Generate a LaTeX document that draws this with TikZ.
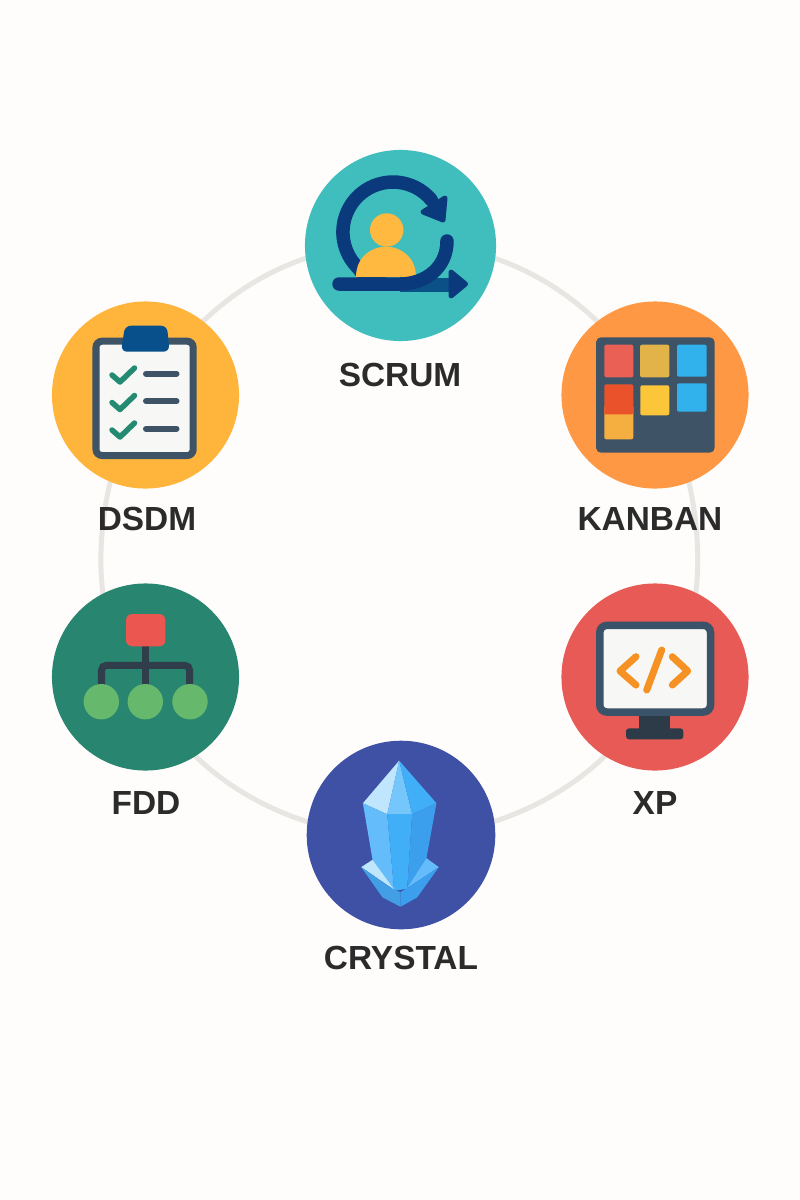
\documentclass[tikz,border=0pt]{standalone}
\usepackage{fontspec}
\setmainfont{Liberation Sans}
\usetikzlibrary{backgrounds}

\definecolor{paper}{HTML}{FEFDFB}
\definecolor{ringgrey}{HTML}{E8E6E3}
\definecolor{labelink}{HTML}{2B2B2B}
\definecolor{scrumteal}{HTML}{40BDBD}
\definecolor{scrumnavy}{HTML}{0A3A7C}
\definecolor{scrumblue}{HTML}{0A5285}
\definecolor{personamber}{HTML}{FFB840}
\definecolor{kanbanorange}{HTML}{FF9844}
\definecolor{boardslate}{HTML}{3F5367}
\definecolor{cardred}{HTML}{EA6055}
\definecolor{cardgold}{HTML}{E1B348}
\definecolor{cardblue}{HTML}{31B2EC}
\definecolor{cardrust}{HTML}{E9522A}
\definecolor{cardpeach}{HTML}{F5AE40}
\definecolor{cardyellow}{HTML}{FCC63A}
\definecolor{dsdmamber}{HTML}{FFB53C}
\definecolor{sheetwhite}{HTML}{F7F7F5}
\definecolor{clipblue}{HTML}{07508C}
\definecolor{tickgreen}{HTML}{248A72}
\definecolor{fddgreen}{HTML}{28856F}
\definecolor{treered}{HTML}{EC5650}
\definecolor{treedark}{HTML}{2F3E4A}
\definecolor{leafgreen}{HTML}{66B96C}
\definecolor{xpred}{HTML}{E75A55}
\definecolor{screenslate}{HTML}{3B5369}
\definecolor{standdark}{HTML}{2C3B47}
\definecolor{codeorange}{HTML}{F59223}
\definecolor{crystalindigo}{HTML}{3F51A5}
\definecolor{gemlight}{HTML}{BFE6FD}
\definecolor{gemsky}{HTML}{74C6FB}
\definecolor{gemsoft}{HTML}{64BDFA}
\definecolor{gemmid}{HTML}{41AEF8}
\definecolor{gemdeep}{HTML}{3C9FEE}
\definecolor{gemlow}{HTML}{429FE6}

\tikzset{
        hub/.style={circle, inner sep=0pt, minimum size=1.87cm},
        hublabel/.style={inner sep=0pt, text=labelink,
                         font=\fontsize{9.5}{12}\selectfont\bfseries},
        ringline/.style={draw=ringgrey, line width=.05cm},
        card/.style={rounded corners=.02cm},
        tick/.style={draw=tickgreen, line width=.055cm, line cap=round, line join=round},
        textline/.style={draw=boardslate, line width=.06cm, line cap=round},
        code/.style={draw=codeorange, line width=.07cm, line cap=round, line join=round},
        sweep/.style={draw=scrumnavy, line width=.135cm, line cap=round},
        head/.style={draw=scrumnavy, fill=scrumnavy, line width=.05cm, line join=round}
}

\begin{document}
\begin{tikzpicture}[x=.01cm, y=-.01cm]
        \useasboundingbox (0, 0) rectangle (800, 1200);

        \node [hub, fill=scrumteal, minimum size=1.91cm] (scrum) at (400.5, 245.5) {};
        \node [hub, fill=kanbanorange] (kanban) at (655, 395) {};
        \node [hub, fill=xpred] (xp) at (655, 677) {};
        \node [hub, fill=crystalindigo, minimum size=1.885cm] (crystal) at (401, 835) {};
        \node [hub, fill=fddgreen] (fdd) at (145.5, 677) {};
        \node [hub, fill=dsdmamber] (dsdm) at (145.5, 395) {};

        \node [hublabel] (scrumlabel) at (400, 375) {SCRUM};
        \node [hublabel] (kanbanlabel) at (650, 519) {KANBAN};
        \node [hublabel] (xplabel) at (655, 803) {XP};
        \node [hublabel] (crystallabel) at (401, 958) {CRYSTAL};
        \node [hublabel] (fddlabel) at (146, 803) {FDD};
        \node [hublabel] (dsdmlabel) at (147, 519) {DSDM};

        \begin{pgfonlayer}{background}
                \fill [paper] (0, 0) rectangle (800, 1200);
                \draw [ringline] (scrum.center) .. controls (490, 240) and (590, 285) .. (kanban.center);
                \draw [ringline] (kanban.center) .. controls (712, 490) and (712, 645) .. (xp.center);
                \draw [ringline] (xp.center) .. controls (625, 775) and (500, 840) .. (crystal.center);
                \draw [ringline] (crystal.center) .. controls (300, 840) and (175, 775) .. (fdd.center);
                \draw [ringline] (fdd.center) .. controls (86, 645) and (86, 490) .. (dsdm.center);
                \draw [ringline] (dsdm.center) .. controls (210, 285) and (310, 240) .. (scrum.center);
        \end{pgfonlayer}

        \draw [sweep] (431.3, 199.9) arc [start angle=40, end angle=225, radius=.5cm]
               .. controls (364, 276) and (372, 284) .. (385, 284);
        \fill [personamber] (386.7, 230) circle [radius=.167cm];
        \fill [personamber] (356, 277) .. controls (356, 258) and (370, 246.7) .. (386, 246.7)
               .. controls (402, 246.7) and (416, 258) .. (416, 277) -- cycle;
        \fill [scrumblue] (400, 278) rectangle (452, 291.5);
        \draw [head] (451, 272) -- (465.5, 284) -- (451, 296) -- cycle;
        \draw [sweep] (447, 241) .. controls (447, 268) and (425, 284) .. (400, 284) -- (339, 284);
        \draw [head] (445, 198) -- (423, 212) -- (443, 220) -- cycle;

        \fill [boardslate, rounded corners=.05cm] (596, 337.3) rectangle (714.7, 452.7);
        \fill [cardred, card] (604.3, 344.7) rectangle (633.3, 377.3);
        \fill [cardgold, card] (640, 344.7) rectangle (669.3, 377.3);
        \fill [cardblue, card] (677, 344.7) rectangle (706.7, 376.7);
        \fill [cardpeach, card] (604.3, 405) rectangle (633.3, 439.3);
        \fill [cardrust, rounded corners=.02cm] (604.3, 414.3) -- (604.3, 384.3) -- (633.3, 384.3) -- (633.3, 414.3) [sharp corners] -- cycle;
        \fill [cardyellow, card] (640.3, 385.3) rectangle (669.3, 415.3);
        \fill [cardblue, card] (677, 383.3) rectangle (706.7, 411.7);

        \draw [boardslate, fill=sheetwhite, line width=.07cm, rounded corners=.06cm] (96, 341.2) rectangle (193.2, 455.5);
        \fill [clipblue, rounded corners=.06cm] (125, 325.7) -- (167, 325.7) -- (169.5, 351.7) -- (121, 351.7) -- cycle;
        \foreach \row in {0, 27.5, 55} {
                \draw [tick] (112, 375 + \row) -- (120, 382 + \row) -- (134.5, 368 + \row);
                \draw [textline] (146, 373.7 + \row) -- (176.5, 373.7 + \row);
        }

        \draw [treedark, line width=.07cm, rounded corners=.05cm] (101.5, 690) -- (101.5, 665.3) -- (189.7, 665.3) -- (189.7, 690);
        \draw [treedark, line width=.07cm] (145.3, 646) -- (145.3, 690);
        \fill [treered, rounded corners=.06cm] (126, 614) rectangle (165.3, 646.3);
        \foreach \leaf in {101.3, 145.3, 190} {
                \fill [leafgreen] (\leaf, 701.7) circle [radius=.177cm];
        }

        \fill [standdark] (639.3, 710) rectangle (670, 730);
        \fill [standdark, rounded corners=.03cm] (626, 728.3) rectangle (683.3, 739.3);
        \draw [screenslate, fill=sheetwhite, line width=.075cm, rounded corners=.07cm] (599.8, 625.4) rectangle (710.5, 712);
        \draw [code] (636, 656.7) -- (620, 671) -- (636, 685);
        \draw [code] (672.3, 656.7) -- (687.7, 671) -- (672.3, 685);
        \draw [code] (661.7, 650) -- (646.7, 690);

        \begin{scope}[shift={(300, 735)}, x=.00333cm, y=-.00333cm]
                \fill [gemlight] (298, 77) -- (189, 205) -- (262, 238) -- cycle;
                \fill [gemsky] (298, 77) -- (262, 238) -- (337, 238) -- cycle;
                \fill [gemmid] (298, 77) -- (337, 238) -- (410, 205) -- cycle;
                \fill [gemsoft] (189, 205) -- (262, 238) -- (283, 468) -- (218, 375) -- cycle;
                \fill [gemmid] (262, 238) -- (337, 238) -- (322, 462) -- (283, 468) -- cycle;
                \fill [gemdeep] (337, 238) -- (410, 205) -- (380, 370) -- (322, 462) -- cycle;
                \fill [gemlight] (184, 397) -- (218, 375) -- (283, 465) -- cycle;
                \fill [gemsoft] (417, 397) -- (380, 370) -- (322, 460) -- cycle;
                \fill [gemlow] (184, 397) -- (283, 465) -- (302, 472) -- (302, 516) -- (248, 488) -- cycle;
                \fill [gemdeep] (417, 397) -- (322, 460) -- (302, 472) -- (302, 516) -- (352, 488) -- cycle;
        \end{scope}
\end{tikzpicture}
\end{document}
